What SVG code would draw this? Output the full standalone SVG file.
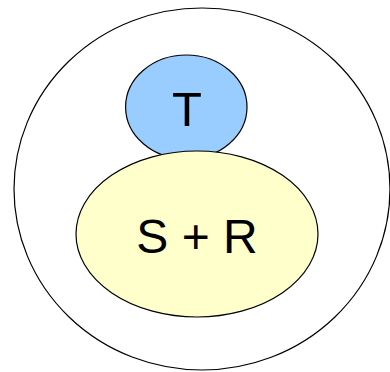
<svg xmlns="http://www.w3.org/2000/svg" width="390" height="372" viewBox="0 0 390 372">
<style>
.o{stroke:#000;stroke-width:1.2}
.t{font-family:"Liberation Sans",Arial,sans-serif;fill:#000;text-anchor:middle}
</style>
<rect width="390" height="372" fill="#fff"/>
<g id="outer"><ellipse class="o" cx="202" cy="189" rx="188" ry="181" fill="#fff"/></g>
<g id="T"><ellipse class="o" cx="186.3" cy="107" rx="60.7" ry="52" fill="#99ccff"/><text class="t" x="187" y="126" font-size="49">T</text></g>
<g id="SR"><ellipse class="o" cx="197" cy="234" rx="121" ry="83" fill="#ffffcc"/><text class="t" x="197" y="253" font-size="48">S + R</text></g>
<g id="connectors"/>
</svg>
